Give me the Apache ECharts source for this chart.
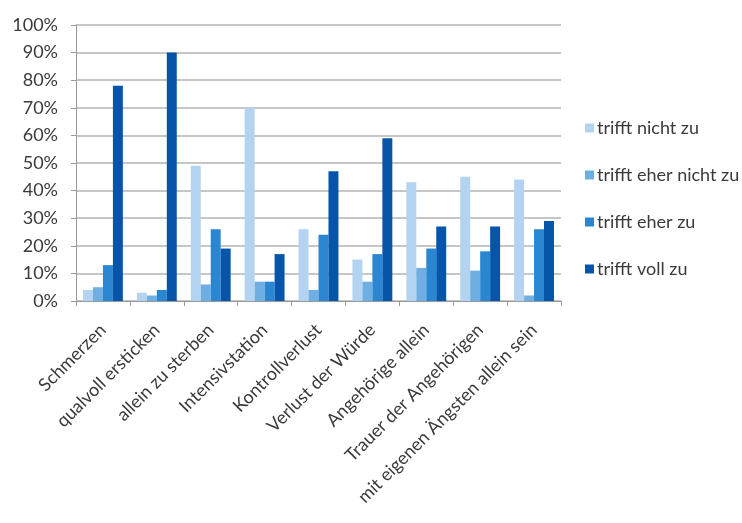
<!DOCTYPE html>
<html><head><meta charset="utf-8">
<script src="https://cdn.jsdelivr.net/npm/echarts@6/dist/echarts.min.js"></script>
<style>html,body{margin:0;padding:0;background:#fff}#c{width:742px;height:523px}</style>
</head><body><div id="c"></div>
<script>
const categories = ["Schmerzen","qualvoll ersticken","allein zu sterben","Intensivstation","Kontrollverlust","Verlust der Würde","Angehörige allein","Trauer der Angehörigen","mit eigenen Ängsten allein sein"];
const seriesNames = ["trifft nicht zu","trifft eher nicht zu","trifft eher zu","trifft voll zu"];
const trifftNicht = [4,3,49,70,26,15,43,45,44];
const trifftEherNicht = [5,2,6,7,4,7,12,11,2];
const trifftEher = [13,4,26,7,24,17,19,18,26];
const trifftVoll = [78,90,19,17,47,59,27,27,29];
const yTicks = [0,10,20,30,40,50,60,70,80,90,100];
const colors = ["#b3d3f0","#6eaee3","#2b86d1","#0755a8"];
const values = [trifftNicht, trifftEherNicht, trifftEher, trifftVoll];
const font = "Lato, 'Open Sans', sans-serif";
const chart = echarts.init(document.getElementById('c'));
chart.setOption({
  animation:false,
  color: colors,
  grid:{left:76, right:181, top:25, bottom:222, containLabel:false},
  legend:{
    orient:'vertical', left:580, top:114, itemGap:29, itemWidth:9, itemHeight:9,
    icon:'rect',
    textStyle:{fontFamily:font, fontSize:18, color:'#3a3a3a', padding:[0,0,0,-2]},
    data: seriesNames
  },
  xAxis:{
    type:'category', data:categories,
    axisLine:{lineStyle:{color:'#999', width:1}},
    axisTick:{show:true, alignWithLabel:false, length:5, lineStyle:{color:'#999'}},
    axisLabel:{rotate:45, fontFamily:font, fontSize:18, color:'#3a3a3a', margin:26, interval:0}
  },
  yAxis:{
    type:'value', min:yTicks[0], max:yTicks[yTicks.length-1], interval:10,
    axisLine:{show:true, lineStyle:{color:'#999'}},
    axisTick:{show:true, length:5, lineStyle:{color:'#999'}},
    splitLine:{lineStyle:{color:'#b3b3b3', width:1.5}},
    axisLabel:{formatter:'{value}%', fontFamily:font, fontSize:18, color:'#3a3a3a', margin:18}
  },
  series: seriesNames.map((n,i)=>({
    name:n, type:'bar', data:values[i], barGap:'0%', barCategoryGap:'26%',
    itemStyle:{color:colors[i]}
  }))
});
</script></body></html>
